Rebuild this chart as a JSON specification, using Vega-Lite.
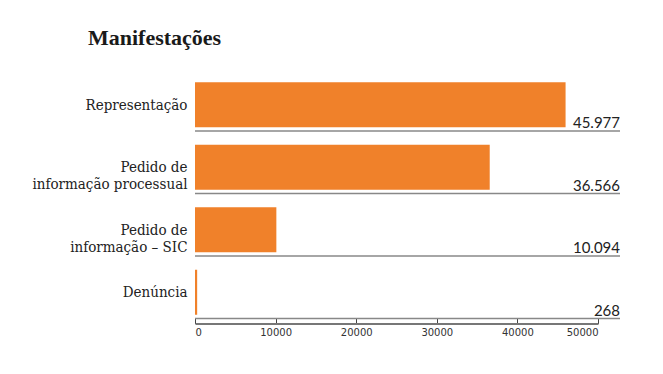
{
  "$schema": "https://vega.github.io/schema/vega-lite/v6.json",
  "autosize": "none",
  "width": 403,
  "height": 250,
  "padding": {"left": 195, "top": 68.5, "right": 65, "bottom": 55.5},
  "background": "white",
  "config": {
    "view": {"stroke": null},
    "locale": {"number": {"decimal": ",", "thousands": ".", "grouping": [3], "currency": ["R$", ""]}}
  },
  "title": {
    "text": "Manifestações",
    "anchor": "start",
    "frame": "group",
    "dx": -107,
    "offset": 2,
    "baseline": "alphabetic",
    "font": "Liberation Serif",
    "fontSize": 22,
    "fontWeight": "bold",
    "color": "#1a1a1a"
  },
  "data": {
    "values": [
      {"categoria": "Representação", "valor": 45977},
      {"categoria": "Pedido de|informação processual", "valor": 36566},
      {"categoria": "Pedido de|informação – SIC", "valor": 10094},
      {"categoria": "Denúncia", "valor": 268}
    ]
  },
  "encoding": {
    "y": {
      "field": "categoria",
      "type": "nominal",
      "sort": null,
      "scale": {"paddingInner": 0, "paddingOuter": 0},
      "axis": {
        "title": null,
        "domain": false,
        "ticks": false,
        "labelPadding": 8,
        "labelOffset": 5,
        "labelExpr": "split(datum.label, '|')",
        "labelFont": "DejaVu Serif Condensed",
        "labelFontSize": 15,
        "labelColor": "#222",
        "labelLineHeight": 17
      }
    }
  },
  "layer": [
    {
      "mark": {"type": "bar", "color": "#f0812a", "height": 45, "yOffset": 5},
      "encoding": {
        "x": {
          "field": "valor",
          "type": "quantitative",
          "scale": {"domain": [0, 50000], "nice": false},
          "axis": {
            "title": null,
            "values": [0, 10000, 20000, 30000, 40000, 50000],
            "format": "d",
            "grid": false,
            "offset": 5,
            "domainColor": "#777",
            "domainWidth": 2,
            "tickColor": "#444",
            "tickSize": -5,
            "tickWidth": 1,
            "labelPadding": 9,
            "labelFont": "DejaVu Sans",
            "labelFontSize": 10,
            "labelColor": "#333"
          }
        }
      }
    },
    {
      "mark": {"type": "rule", "color": "#888", "strokeWidth": 1.5, "clip": false},
      "encoding": {
        "y": {"field": "categoria", "type": "nominal", "sort": null, "bandPosition": 1},
        "x": {"datum": 0},
        "x2": {"datum": 52730}
      }
    },
    {
      "mark": {"type": "text", "align": "right", "baseline": "alphabetic", "dy": -3, "font": "Lato", "fontSize": 15, "color": "#222", "clip": false},
      "encoding": {
        "y": {"field": "categoria", "type": "nominal", "sort": null, "bandPosition": 1},
        "x": {"datum": 52730},
        "text": {"field": "valor", "type": "quantitative", "format": ",d"}
      }
    },
    {
      "mark": {"type": "rule", "color": "#777", "strokeWidth": 2, "yOffset": 5},
      "encoding": {
        "x": {"datum": 0}
      }
    }
  ]
}
